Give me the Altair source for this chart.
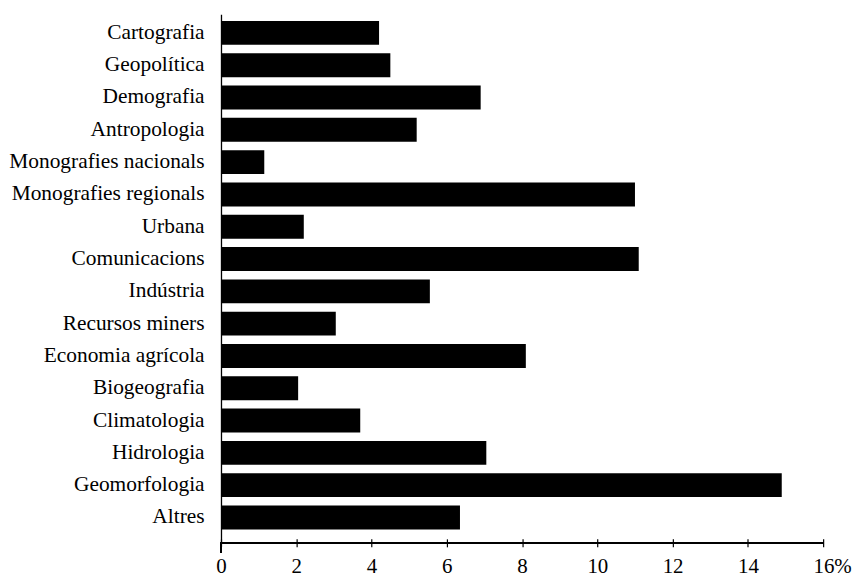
import altair as alt
import pandas as pd

categories = [
    "Cartografia", "Geopolítica", "Demografia", "Antropologia",
    "Monografies nacionals", "Monografies regionals", "Urbana",
    "Comunicacions", "Indústria", "Recursos miners", "Economia agrícola",
    "Biogeografia", "Climatologia", "Hidrologia", "Geomorfologia", "Altres",
]
values = [4.2, 4.5, 6.9, 5.2, 1.15, 11.0, 2.2, 11.1, 5.55, 3.05, 8.1,
          2.05, 3.7, 7.05, 14.9, 6.35]
x_ticks = [0, 2, 4, 6, 8, 10, 12, 14, 16]

df = pd.DataFrame({"cat": categories, "val": values})

FONT = "Liberation Serif"

bars = alt.Chart(df).mark_bar(color="black").encode(
    x=alt.X(
        "val:Q",
        scale=alt.Scale(domain=[0, 16], nice=False, zero=True),
        axis=alt.Axis(
            values=x_ticks,
            title=None,
            grid=False,
            domain=False,
            tickColor="black",
            tickSize=8,
            tickWidth=1.2,
            offset=-4,
            labelFont=FONT,
            labelFontSize=21,
            labelColor="black",
            labelPadding=9,
            labelExpr="datum.value == 16 ? '16%' : datum.label",
            labelOffset={"condition": {"test": "datum.value == 16", "value": 9}, "value": 0},
            labelFlush=False,
        ),
    ),
    y=alt.Y(
        "cat:N",
        sort=categories,
        scale=alt.Scale(paddingInner=0.26, paddingOuter=0.31, align=0.33),
        axis=alt.Axis(
            title=None,
            ticks=False,
            domainColor="black",
            domainWidth=1.3,
            labelFont=FONT,
            labelFontSize=21.5,
            labelColor="black",
            labelPadding=17,
            labelLimit=400,
        ),
    ),
)

xline = alt.Chart(df).mark_rule(color="black", strokeWidth=1.3).encode(
    x=alt.datum(0, type="quantitative"),
    x2=alt.datum(16),
    y=alt.value(531),
)

ystub = alt.Chart(df).mark_rule(color="black", strokeWidth=1.6).encode(
    x=alt.datum(0, type="quantitative"),
    y=alt.value(531),
    y2=alt.value(541),
)

chart = alt.layer(bars, xline, ystub).properties(
    width=605,
    height=531,
    autosize=alt.AutoSizeParams(type="none"),
    padding={"left": 214, "top": 5, "right": 30, "bottom": 45},
).configure(background="white").configure_view(stroke=None)

chart.save("out.html", embed_options={"renderer": "svg", "actions": False})
